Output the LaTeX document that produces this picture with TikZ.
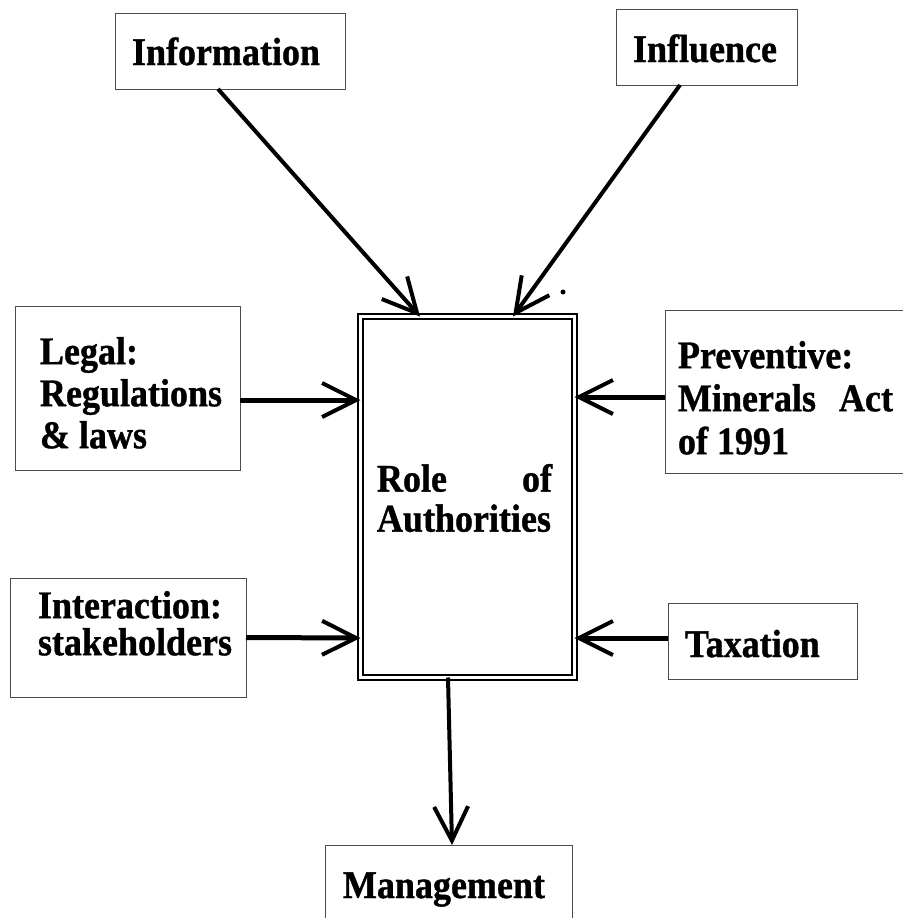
\documentclass[tikz,border=0pt]{standalone}
\usepackage{fontspec}
\setmainfont[BoldFeatures={FakeBold=1}]{Liberation Serif}
\usetikzlibrary{arrows.meta}

% one line of label text, set slightly taller than the font's own shape
\newcommand{\tl}[1]{\scalebox{1}[1.09]{#1}}

\tikzset{
  box/.style={draw=black!70, line width=1pt, rectangle, inner sep=0pt, outer sep=0pt},
  rolebox/.style={draw=black, line width=2pt, double=white, double distance=3pt,
                  rectangle, inner sep=0pt, outer sep=0pt},
  lbl/.style={inner sep=0pt, outer sep=0pt, align=left,
              font=\bfseries\fontsize{36}{43}\selectfont},
  barb/.tip={Straight Barb[length=34pt, width=34pt, line width=4pt]},
  arr/.style={draw=black, line width=4pt, -barb},
  harr/.style={arr, line width=5pt}
}

\begin{document}
\begin{tikzpicture}[x=1pt, y=-1pt]
\useasboundingbox (0,0) rectangle (902,918);

% outer boxes
\node[box, minimum width=230pt, minimum height=76pt]  (info) at (230,51) {};
\node[box, minimum width=181pt, minimum height=76pt]  (infl) at (706.5,47) {};
\node[box, minimum width=225pt, minimum height=164pt] (legal) at (127.5,388) {};
\node[box, minimum width=240pt, minimum height=163pt] (prev) at (785,391.5) {};
\node[box, minimum width=236pt, minimum height=119pt] (inter) at (128,637.5) {};
\node[box, minimum width=189pt, minimum height=76pt]  (tax) at (762.5,641) {};
\node[box, minimum width=247pt, minimum height=80pt]  (mgmt) at (448.5,885) {};

% central double-framed box
\node[rolebox, minimum width=214pt, minimum height=361pt] (role) at (467.5,497) {};

% texts
\node[lbl, anchor=base west] (info-t) at (132,65) {\tl{Information}};
\node[lbl, anchor=base west] (infl-t) at (633,62) {\tl{Influence}};
\node[lbl, anchor=north west, font=\bfseries\fontsize{36}{42}\selectfont]
  (legal-t) at (40,337) {\tl{Legal:}\\\tl{Regulations}\\\tl{\&\ laws}};
\node[lbl, anchor=north west] (prev-t) at (678,341)
  {\tl{Preventive:}\\\tl{\makebox[215pt][s]{Minerals\hfill Act}}\\\tl{of 1991}};
\node[lbl, anchor=north west, font=\bfseries\fontsize{36}{37}\selectfont]
  (inter-t) at (38,591) {\tl{Interaction:}\\\tl{stakeholders}};
\node[lbl, anchor=base west] (tax-t) at (685,657) {\tl{Taxation}};
\node[lbl, anchor=north west, font=\bfseries\fontsize{36}{40}\selectfont]
  (role-t) at (377,464) {\tl{\makebox[175pt][s]{Role\hfill of}}\\\tl{Authorities}};
\node[lbl, anchor=base west] (mgmt-t) at (343,898) {\tl{Management}};

% connectors into the central box
\draw[arr]  ([xshift=-12pt]info.south) -- ([xshift=-47.5pt]role.north);
\draw[arr]  ([xshift=-26.5pt]infl.south) -- ([xshift=45.5pt]role.north);
\draw[harr] ([yshift=-12pt]legal.east) -- ([yshift=97pt]role.west);
\draw[harr] ([yshift=-5.5pt]prev.west) -- ([yshift=100pt]role.east);
\draw[harr] (inter.east) -- ([yshift=-141pt]role.west);
\draw[harr] ([yshift=3pt]tax.west) -- ([yshift=-141pt]role.east);
% connector out of the central box
\draw[arr]  ([xshift=-19.5pt]role.south) -- ([xshift=3.5pt]mgmt.north);

% small ink speck above the frame
\fill (563,292) circle (2.5pt);
\end{tikzpicture}
\end{document}
